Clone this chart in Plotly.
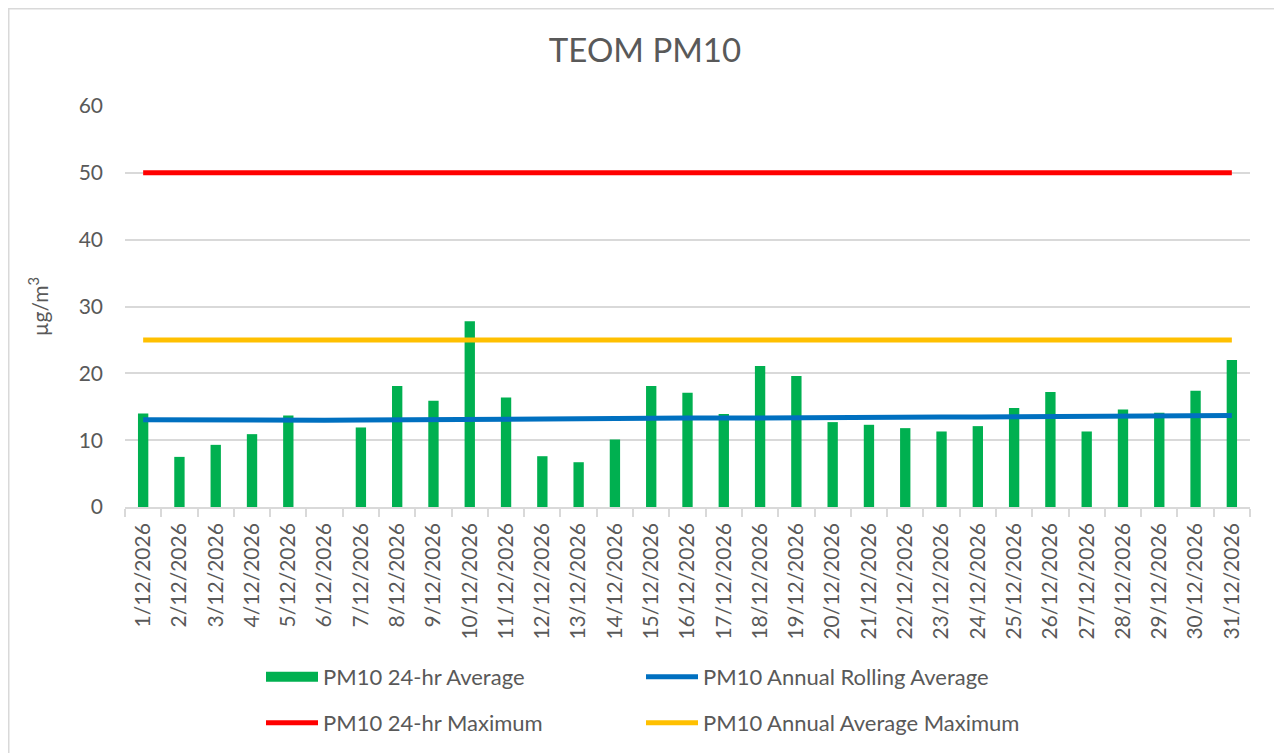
import plotly.graph_objects as go

dates = [f"{d}/12/2026" for d in range(1, 32)]
pm10_24hr = [14.0, 7.5, 9.3, 10.9, 13.7, None, 11.9, 18.1, 15.9, 27.8,
             16.4, 7.6, 6.7, 10.1, 18.1, 17.1, 13.9, 21.1, 19.6, 12.7,
             12.3, 11.8, 11.3, 12.1, 14.8, 17.2, 11.3, 14.6, 14.1, 17.4, 22.0]
rolling_avg = [13.05, 13.0, 13.0, 13.0, 13.02, 12.98, 13.0, 13.05, 13.1, 13.15,
               13.2, 13.2, 13.2, 13.25, 13.3, 13.3, 13.3, 13.35, 13.4, 13.4,
               13.4, 13.45, 13.45, 13.45, 13.5, 13.55, 13.55, 13.6, 13.6, 13.65, 13.7]
max_24hr = [50] * 31
annual_max = [25] * 31

GREEN = "#00B050"
BLUE = "#0070C0"
RED = "#FF0000"
YELLOW = "#FFC000"
TXT = "#595959"
GRID = "#D9D9D9"
FONT = "Lato"

fig = go.Figure()
fig.add_trace(go.Bar(x=dates, y=pm10_24hr, marker=dict(color=GREEN, line=dict(width=0)),
                     name="PM10 24-hr Average", showlegend=False, legendgroup="g"))
fig.add_trace(go.Scatter(x=dates, y=max_24hr, mode="lines", line=dict(color=RED, width=5),
                         name="PM10 24-hr Maximum", legend="legend2"))
fig.add_trace(go.Scatter(x=dates, y=annual_max, mode="lines", line=dict(color=YELLOW, width=5),
                         name="PM10 Annual Average Maximum", legend="legend2"))
fig.add_trace(go.Scatter(x=dates, y=rolling_avg, mode="lines", line=dict(color=BLUE, width=5),
                         name="PM10 Annual Rolling Average", legend="legend"))
# legend proxy for bars (wide rectangle like Excel)
fig.add_trace(go.Scatter(x=[None], y=[None], mode="lines", line=dict(color=GREEN, width=14),
                         name="PM10 24-hr Average", legend="legend", legendgroup="g",
                         legendrank=1))

# page body has an 8px default margin; work in screen pixels and shift
OFF = 8
W, H = 1282 - OFF, 775 - OFF  # figure may extend below the viewport
PL, PR, PT, PB = 125, 1250, 106, 507  # plot area in screen pixels
L, R, T, B = PL - OFF, W - (PR - OFF), PT - OFF, H - (PB - OFF)
pw, ph = W - L - R, H - T - B

def px_x(p):
    return (p - OFF - L) / pw

def px_y(p):
    return (H - B - (p - OFF)) / ph

legend_common = dict(orientation="h", xanchor="left", yanchor="top",
                     entrywidth=313, entrywidthmode="pixels", itemwidth=52,
                     traceorder="normal", font=dict(size=22, color=TXT),
                     bgcolor="rgba(0,0,0,0)")

fig.update_layout(
    width=W, height=H,
    margin=dict(l=L, r=R, t=T, b=B),
    paper_bgcolor="white", plot_bgcolor="white",
    font=dict(family=FONT, size=21, color=TXT),
    title=dict(text="TEOM PM10", x=0.5, xanchor="center", y=1 - (50 - OFF) / H, yanchor="middle",
               font=dict(family=FONT, size=33, color=TXT)),
    bargap=0.715,
    xaxis=dict(type="category", tickangle=-90, showgrid=False, showline=True, linecolor=GRID,
               linewidth=1.5, ticks="outside", tickson="boundaries", ticklen=8, tickcolor=GRID,
               tickwidth=1.5, ticklabelstandoff=6, tickfont=dict(size=21, color=TXT)),
    yaxis=dict(range=[0, 60], dtick=10, showgrid=True, gridcolor=GRID, gridwidth=1.5,
               zeroline=False, showline=False, ticks="", ticklabelstandoff=21,
               tickfont=dict(size=21, color=TXT),
               title=dict(text="µg/m<sup>3</sup>", standoff=24, font=dict(size=21, color=TXT))),
    legend=dict(x=px_x(261), y=px_y(656), **legend_common),
    legend2=dict(x=px_x(261), y=px_y(702), **legend_common),
    shapes=[dict(type="rect", xref="paper", yref="paper",
                 x0=px_x(OFF + 0.75), x1=px_x(1279), y0=px_y(8.75), y1=px_y(770),
                 line=dict(color=GRID, width=1.5), fillcolor="rgba(0,0,0,0)", layer="below")],
)

fig.write_html("out.html")
